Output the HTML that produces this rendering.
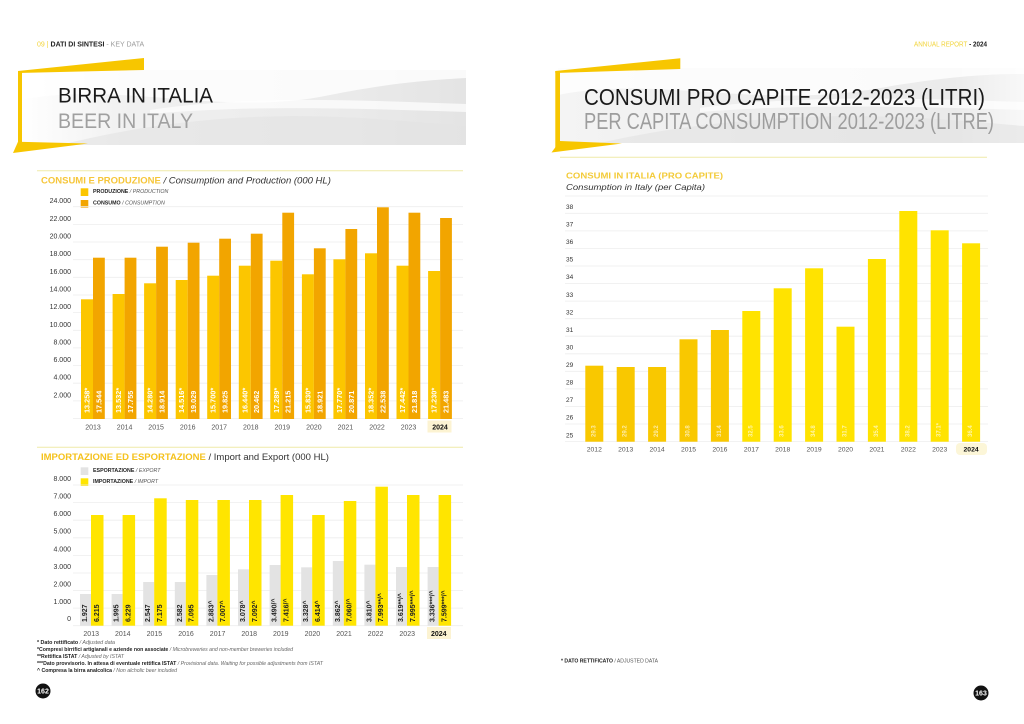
<!DOCTYPE html>
<html><head><meta charset="utf-8"><style>
html,body{margin:0;padding:0;background:#fff;}
svg{display:block;}
</style></head><body>
<svg width="1024" height="724" viewBox="0 0 1024 724" xmlns="http://www.w3.org/2000/svg" font-family="Liberation Sans, sans-serif">
<defs>
<linearGradient id="bandL" x1="0" y1="0" x2="1" y2="0">
<stop offset="0" stop-color="#ffffff"/><stop offset="0.25" stop-color="#f0f0f0"/><stop offset="0.7" stop-color="#ebebeb"/><stop offset="1" stop-color="#e4e4e4"/>
</linearGradient>
<linearGradient id="bandR" x1="0" y1="0" x2="1" y2="0">
<stop offset="0" stop-color="#f4f4f4"/><stop offset="0.4" stop-color="#eeeeee"/><stop offset="0.85" stop-color="#ebebeb"/><stop offset="1" stop-color="#f8f8f8"/>
</linearGradient>
</defs>

<!-- LEFT PAGE HEADER -->
<text x="37" y="46.5" font-size="7" fill="#222"><tspan fill="#F2D43A">09 |</tspan><tspan font-weight="bold"> DATI DI SINTESI</tspan><tspan fill="#9a9a9a"> - KEY DATA</tspan></text>

<!-- Left band -->
<rect x="20" y="70" width="446" height="75" fill="url(#bandL)"/>
<path d="M20,100 C120,80 220,118 330,95 C390,83 430,80 466,78 L466,70 L20,70 Z" fill="#ffffff" opacity="0.8"/>
<path d="M60,145 C160,120 260,112 360,118 C410,121 440,124 466,126 L466,145 Z" fill="#e2e2e2" opacity="0.6"/>
<path d="M150,110 C250,95 350,100 466,104 L466,112 C350,108 250,105 150,114 Z" fill="#ffffff" opacity="0.7"/>
<!-- Left frame -->
<polygon points="18,71 144,58 144,70 18,73" fill="#F7C600"/>
<rect x="18" y="71" width="4" height="80" fill="#F7C600"/>
<polygon points="13,153 18,141.7 88,143.5" fill="#F7C600"/>
<text x="58" y="102.5" font-size="21" fill="#1a1a1a" textLength="155" lengthAdjust="spacingAndGlyphs">BIRRA IN ITALIA</text>
<text x="58" y="128" font-size="21" fill="#a0a0a0" textLength="135" lengthAdjust="spacingAndGlyphs">BEER IN ITALY</text>

<line x1="37" y1="170.7" x2="463" y2="170.7" stroke="#EFEAA8" stroke-width="1"/>

<!-- CHART 1 -->
<text x="41" y="183.4" font-size="9.5" fill="#333"><tspan font-weight="bold" fill="#F6C63A">CONSUMI E PRODUZIONE</tspan><tspan font-style="italic"> / Consumption and Production (000 HL)</tspan></text>
<rect x="80.7" y="188.3" width="7.6" height="7.7" fill="#FCC600"/>
<rect x="80.7" y="200" width="7.6" height="7.7" fill="#F2A500"/>
<text x="93" y="193" font-size="5.3" fill="#222"><tspan font-weight="bold">PRODUZIONE</tspan><tspan font-style="italic" fill="#555"> / PRODUCTION</tspan></text>
<text x="93" y="204.7" font-size="5.3" fill="#222"><tspan font-weight="bold">CONSUMO</tspan><tspan font-style="italic" fill="#555"> / CONSUMPTION</tspan></text>

<g stroke="#ededed" stroke-width="0.8">
<line x1="73" y1="206.7" x2="463" y2="206.7"/><line x1="73" y1="224.4" x2="463" y2="224.4"/><line x1="73" y1="242" x2="463" y2="242"/><line x1="73" y1="259.7" x2="463" y2="259.7"/><line x1="73" y1="277.3" x2="463" y2="277.3"/><line x1="73" y1="295" x2="463" y2="295"/><line x1="73" y1="312.6" x2="463" y2="312.6"/><line x1="73" y1="330.3" x2="463" y2="330.3"/><line x1="73" y1="347.9" x2="463" y2="347.9"/><line x1="73" y1="365.6" x2="463" y2="365.6"/><line x1="73" y1="383.2" x2="463" y2="383.2"/><line x1="73" y1="400.9" x2="463" y2="400.9"/><line x1="73" y1="418.5" x2="463" y2="418.5"/>
</g>
<g font-size="7" fill="#333" text-anchor="end">
<text x="71" y="203.2">24.000</text><text x="71" y="220.9">22.000</text><text x="71" y="238.5">20.000</text><text x="71" y="256.2">18.000</text><text x="71" y="273.8">16.000</text><text x="71" y="291.5">14.000</text><text x="71" y="309.1">12.000</text><text x="71" y="326.8">10.000</text><text x="71" y="344.4">8.000</text><text x="71" y="362.1">6.000</text><text x="71" y="379.7">4.000</text><text x="71" y="397.4">2.000</text>
</g>
<g fill="#FCC600">
<rect x="81" y="299.3" width="12" height="119.7"/><rect x="112.6" y="294" width="12" height="125"/><rect x="144.1" y="283.3" width="12" height="135.7"/><rect x="175.7" y="280" width="12" height="139"/><rect x="207.2" y="275.7" width="12" height="143.3"/><rect x="238.8" y="265.7" width="12" height="153.3"/><rect x="270.3" y="260.7" width="12" height="158.3"/><rect x="301.9" y="274.3" width="12" height="144.7"/><rect x="333.4" y="259.3" width="12" height="159.7"/><rect x="365" y="253.3" width="12" height="165.7"/><rect x="396.5" y="265.7" width="12" height="153.3"/><rect x="428.1" y="271" width="12" height="148"/>
</g>
<g fill="#F2A500">
<rect x="93" y="257.7" width="11.8" height="161.3"/><rect x="124.6" y="257.7" width="11.8" height="161.3"/><rect x="156.1" y="246.7" width="11.8" height="172.3"/><rect x="187.7" y="242.7" width="11.8" height="176.3"/><rect x="219.2" y="238.7" width="11.8" height="180.3"/><rect x="250.8" y="233.7" width="11.8" height="185.3"/><rect x="282.3" y="212.7" width="11.8" height="206.3"/><rect x="313.9" y="248.3" width="11.8" height="170.7"/><rect x="345.4" y="229" width="11.8" height="190"/><rect x="377" y="207.3" width="11.8" height="211.7"/><rect x="408.5" y="212.7" width="11.8" height="206.3"/><rect x="440.1" y="218" width="11.8" height="201"/>
</g>
<g font-size="7.3" font-weight="bold" fill="#ffffff" dominant-baseline="central">
<text transform="translate(87,413) rotate(-90)">13.258*</text><text transform="translate(98.9,413) rotate(-90)">17.544</text>
<text transform="translate(118.6,413) rotate(-90)">13.532*</text><text transform="translate(130.5,413) rotate(-90)">17.755</text>
<text transform="translate(150.1,413) rotate(-90)">14.280*</text><text transform="translate(162,413) rotate(-90)">18.914</text>
<text transform="translate(181.7,413) rotate(-90)">14.516*</text><text transform="translate(193.6,413) rotate(-90)">19.029</text>
<text transform="translate(213.2,413) rotate(-90)">15.700*</text><text transform="translate(225.1,413) rotate(-90)">19.825</text>
<text transform="translate(244.8,413) rotate(-90)">16.440*</text><text transform="translate(256.7,413) rotate(-90)">20.462</text>
<text transform="translate(276.3,413) rotate(-90)">17.289*</text><text transform="translate(288.2,413) rotate(-90)">21.215</text>
<text transform="translate(307.9,413) rotate(-90)">15.830*</text><text transform="translate(319.8,413) rotate(-90)">18.921</text>
<text transform="translate(339.4,413) rotate(-90)">17.770*</text><text transform="translate(351.3,413) rotate(-90)">20.871</text>
<text transform="translate(371,413) rotate(-90)">18.352*</text><text transform="translate(382.9,413) rotate(-90)">22.538</text>
<text transform="translate(402.5,413) rotate(-90)">17.442*</text><text transform="translate(414.4,413) rotate(-90)">21.818</text>
<text transform="translate(434.1,413) rotate(-90)">17.230*</text><text transform="translate(446,413) rotate(-90)">21.483</text>
</g>
<rect x="427.5" y="420.5" width="24" height="12" fill="#FCF3D2"/>
<g font-size="7" fill="#555" text-anchor="middle">
<text x="93" y="429.5">2013</text><text x="124.6" y="429.5">2014</text><text x="156.1" y="429.5">2015</text><text x="187.7" y="429.5">2016</text><text x="219.2" y="429.5">2017</text><text x="250.8" y="429.5">2018</text><text x="282.3" y="429.5">2019</text><text x="313.9" y="429.5">2020</text><text x="345.4" y="429.5">2021</text><text x="377" y="429.5">2022</text><text x="408.5" y="429.5">2023</text><text x="440" y="429.5" font-weight="bold" fill="#111">2024</text>
</g>

<line x1="37" y1="447.3" x2="463" y2="447.3" stroke="#EFEAA8" stroke-width="1"/>

<!-- CHART 2 -->
<text x="41" y="460" font-size="9.5" fill="#333"><tspan font-weight="bold" fill="#F5C21C">IMPORTAZIONE ED ESPORTAZIONE</tspan><tspan> / Import and Export (000 HL)</tspan></text>
<rect x="80.7" y="467.3" width="7.6" height="7.7" fill="#E3E3E3"/>
<rect x="80.7" y="478.3" width="7.6" height="7.7" fill="#FFE500"/>
<text x="93" y="472" font-size="5.3" fill="#222"><tspan font-weight="bold">ESPORTAZIONE</tspan><tspan font-style="italic" fill="#555"> / EXPORT</tspan></text>
<text x="93" y="483" font-size="5.3" fill="#222"><tspan font-weight="bold">IMPORTAZIONE</tspan><tspan font-style="italic" fill="#555"> / IMPORT</tspan></text>
<g stroke="#ededed" stroke-width="0.8">
<line x1="73" y1="485" x2="463" y2="485"/><line x1="73" y1="502.6" x2="463" y2="502.6"/><line x1="73" y1="520.2" x2="463" y2="520.2"/><line x1="73" y1="537.8" x2="463" y2="537.8"/><line x1="73" y1="555.4" x2="463" y2="555.4"/><line x1="73" y1="573" x2="463" y2="573"/><line x1="73" y1="590.5" x2="463" y2="590.5"/><line x1="73" y1="608.1" x2="463" y2="608.1"/><line x1="73" y1="625.7" x2="463" y2="625.7"/>
</g>
<g font-size="7" fill="#333" text-anchor="end">
<text x="71" y="481">8.000</text><text x="71" y="498.5">7.000</text><text x="71" y="516.1">6.000</text><text x="71" y="533.7">5.000</text><text x="71" y="551.3">4.000</text><text x="71" y="568.9">3.000</text><text x="71" y="586.4">2.000</text><text x="71" y="604">1.000</text><text x="71" y="621">0</text>
</g>
<g fill="#E3E3E3">
<rect x="80" y="594" width="11" height="31.7"/><rect x="111.6" y="594" width="11" height="31.7"/><rect x="143.2" y="582" width="11" height="43.7"/><rect x="174.8" y="582" width="11" height="43.7"/><rect x="206.4" y="575" width="11" height="50.7"/><rect x="238" y="569.3" width="11" height="56.4"/><rect x="269.6" y="565" width="11" height="60.7"/><rect x="301.2" y="567.3" width="11" height="58.4"/><rect x="332.8" y="561" width="11" height="64.7"/><rect x="364.4" y="564.7" width="11" height="61"/><rect x="396" y="567" width="11" height="58.7"/><rect x="427.6" y="567" width="11" height="58.7"/>
</g>
<g fill="#FFE500">
<rect x="91" y="515" width="12.5" height="110.7"/><rect x="122.6" y="515" width="12.5" height="110.7"/><rect x="154.2" y="498.3" width="12.5" height="127.4"/><rect x="185.8" y="500" width="12.5" height="125.7"/><rect x="217.4" y="500" width="12.5" height="125.7"/><rect x="249" y="500" width="12.5" height="125.7"/><rect x="280.6" y="495" width="12.5" height="130.7"/><rect x="312.2" y="515" width="12.5" height="110.7"/><rect x="343.8" y="501" width="12.5" height="124.7"/><rect x="375.4" y="486.7" width="12.5" height="139"/><rect x="407" y="495" width="12.5" height="130.7"/><rect x="438.6" y="495" width="12.5" height="130.7"/>
</g>
<g font-size="7" font-weight="bold" fill="#222" dominant-baseline="central">
<text transform="translate(85.5,622) rotate(-90)">1.927</text><text transform="translate(97.3,622) rotate(-90)">6.215</text>
<text transform="translate(117.1,622) rotate(-90)">1.995</text><text transform="translate(128.9,622) rotate(-90)">6.229</text>
<text transform="translate(148.7,622) rotate(-90)">2.547</text><text transform="translate(160.5,622) rotate(-90)">7.175</text>
<text transform="translate(180.3,622) rotate(-90)">2.582</text><text transform="translate(192.1,622) rotate(-90)">7.095</text>
<text transform="translate(211.9,622) rotate(-90)">2.883^</text><text transform="translate(223.7,622) rotate(-90)">7.007^</text>
<text transform="translate(243.5,622) rotate(-90)">3.078^</text><text transform="translate(255.3,622) rotate(-90)">7.092^</text>
<text transform="translate(275.1,622) rotate(-90)">3.490/^</text><text transform="translate(286.9,622) rotate(-90)">7.416/^</text>
<text transform="translate(306.7,622) rotate(-90)">3.328^</text><text transform="translate(318.5,622) rotate(-90)">6.414^</text>
<text transform="translate(338.3,622) rotate(-90)">3.862^</text><text transform="translate(350.1,622) rotate(-90)">7.060/^</text>
<text transform="translate(369.9,622) rotate(-90)">3.810^</text><text transform="translate(381.7,622) rotate(-90)">7.993**/^</text>
<text transform="translate(401.5,622) rotate(-90)">3.619**/^</text><text transform="translate(413.3,622) rotate(-90)">7.995***/^</text>
<text transform="translate(433.1,622) rotate(-90)">3.336***/^</text><text transform="translate(444.9,622) rotate(-90)">7.599***/^</text>
</g>
<rect x="427" y="627" width="24" height="12" fill="#FCF3D2"/>
<g font-size="7" fill="#555" text-anchor="middle">
<text x="91.2" y="636">2013</text><text x="122.8" y="636">2014</text><text x="154.4" y="636">2015</text><text x="186" y="636">2016</text><text x="217.6" y="636">2017</text><text x="249.2" y="636">2018</text><text x="280.8" y="636">2019</text><text x="312.4" y="636">2020</text><text x="344" y="636">2021</text><text x="375.6" y="636">2022</text><text x="407.2" y="636">2023</text><text x="438.8" y="636" font-weight="bold" fill="#111">2024</text>
</g>

<!-- Footnotes left -->
<g font-size="5" fill="#222">
<text x="37" y="644" textLength="78" lengthAdjust="spacingAndGlyphs"><tspan font-weight="bold">* Dato rettificato</tspan><tspan font-style="italic" fill="#666"> / Adjusted data</tspan></text>
<text x="37" y="651" textLength="256" lengthAdjust="spacingAndGlyphs"><tspan font-weight="bold">*Compresi birrifici artigianali e aziende non associate</tspan><tspan font-style="italic" fill="#666"> / Microbreweries and non-member breweries included</tspan></text>
<text x="37" y="658" textLength="87" lengthAdjust="spacingAndGlyphs"><tspan font-weight="bold">**Rettifica ISTAT</tspan><tspan font-style="italic" fill="#666"> / Adjusted by ISTAT</tspan></text>
<text x="37" y="665" textLength="286" lengthAdjust="spacingAndGlyphs"><tspan font-weight="bold">***Dato provvisorio. In attesa di eventuale rettifica ISTAT</tspan><tspan font-style="italic" fill="#666"> / Provisional data. Waiting for possible adjustments from ISTAT</tspan></text>
<text x="37" y="672" textLength="140" lengthAdjust="spacingAndGlyphs"><tspan font-weight="bold">^ Compresa la birra analcolica</tspan><tspan font-style="italic" fill="#666"> / Non alcholic beer included</tspan></text>
</g>
<circle cx="43" cy="691" r="7.5" fill="#111"/>
<text x="43" y="693.5" font-size="7" font-weight="bold" fill="#fff" text-anchor="middle">162</text>

<!-- RIGHT PAGE -->
<text x="987" y="46.5" font-size="7" text-anchor="end" textLength="73" lengthAdjust="spacingAndGlyphs"><tspan fill="#F2D43A">ANNUAL REPORT</tspan><tspan fill="#222" font-weight="bold"> - 2024</tspan></text>

<rect x="558" y="68" width="466" height="75" fill="url(#bandR)"/>
<path d="M558,95 C660,75 760,110 880,88 C950,76 990,74 1024,74 L1024,68 L558,68 Z" fill="#ffffff" opacity="0.8"/>
<path d="M600,143 C700,120 820,112 920,118 C970,121 1000,124 1024,126 L1024,143 Z" fill="#e3e3e3" opacity="0.6"/>
<path d="M700,108 C800,95 900,98 1024,102 L1024,110 C900,106 800,104 700,112 Z" fill="#ffffff" opacity="0.7"/>
<polygon points="555.3,71 680.3,58.3 680.3,69 555.3,73" fill="#F7C600"/>
<rect x="555.3" y="71" width="4.7" height="79" fill="#F7C600"/>
<polygon points="551.5,152.5 560,141 622,143.5" fill="#F7C600"/>
<text x="584" y="105" font-size="23" fill="#1a1a1a" textLength="401" lengthAdjust="spacingAndGlyphs">CONSUMI PRO CAPITE 2012-2023 (LITRI)</text>
<text x="584" y="129" font-size="23" fill="#9d9d9d" textLength="410" lengthAdjust="spacingAndGlyphs">PER CAPITA CONSUMPTION 2012-2023 (LITRE)</text>

<line x1="560" y1="157.3" x2="987" y2="157.3" stroke="#EFEAA8" stroke-width="1"/>

<text x="566" y="178.3" font-size="8.3" font-weight="bold" fill="#F3CB3A" textLength="157" lengthAdjust="spacingAndGlyphs">CONSUMI IN ITALIA (PRO CAPITE)</text>
<text x="566" y="190" font-size="8.5" font-style="italic" fill="#333" textLength="139" lengthAdjust="spacingAndGlyphs">Consumption in Italy (per Capita)</text>
<line x1="565" y1="196" x2="988" y2="196" stroke="#eeeeee" stroke-width="0.8"/>

<g stroke="#ededed" stroke-width="0.8">
<line x1="565" y1="213.3" x2="988" y2="213.3"/><line x1="565" y1="230.9" x2="988" y2="230.9"/><line x1="565" y1="248.4" x2="988" y2="248.4"/><line x1="565" y1="266" x2="988" y2="266"/><line x1="565" y1="283.5" x2="988" y2="283.5"/><line x1="565" y1="301.1" x2="988" y2="301.1"/><line x1="565" y1="318.7" x2="988" y2="318.7"/><line x1="565" y1="336.2" x2="988" y2="336.2"/><line x1="565" y1="353.8" x2="988" y2="353.8"/><line x1="565" y1="371.3" x2="988" y2="371.3"/><line x1="565" y1="388.9" x2="988" y2="388.9"/><line x1="565" y1="406.5" x2="988" y2="406.5"/><line x1="565" y1="424" x2="988" y2="424"/><line x1="565" y1="441.6" x2="988" y2="441.6"/>
</g>
<g font-size="6.5" fill="#333">
<text x="566" y="209">38</text><text x="566" y="226.6">37</text><text x="566" y="244.1">36</text><text x="566" y="261.7">35</text><text x="566" y="279.2">34</text><text x="566" y="296.8">33</text><text x="566" y="314.4">32</text><text x="566" y="331.9">31</text><text x="566" y="349.5">30</text><text x="566" y="367">29</text><text x="566" y="384.6">28</text><text x="566" y="402.2">27</text><text x="566" y="419.7">26</text><text x="566" y="437.3">25</text>
</g>
<g fill="#F9C800">
<rect x="585.3" y="365.7" width="18" height="76"/><rect x="616.7" y="367" width="18" height="74.7"/><rect x="648.1" y="367" width="18" height="74.7"/><rect x="679.5" y="339.3" width="18" height="102.4"/><rect x="710.9" y="330" width="18" height="111.7"/>
</g>
<g fill="#FFE300">
<rect x="742.3" y="311" width="18" height="130.7"/><rect x="773.7" y="288.3" width="18" height="153.4"/><rect x="805.1" y="268.3" width="18" height="173.4"/><rect x="836.5" y="326.7" width="18" height="115"/><rect x="867.9" y="259" width="18" height="182.7"/><rect x="899.3" y="211" width="18" height="230.7"/><rect x="930.7" y="230.3" width="18" height="211.4"/><rect x="962.1" y="243.3" width="18" height="198.4"/>
</g>
<g font-size="6" font-weight="bold" fill="#ffffff" fill-opacity="0.65" dominant-baseline="central">
<text transform="translate(594.3,437) rotate(-90)">29.3</text><text transform="translate(625.7,437) rotate(-90)">29.2</text><text transform="translate(657.1,437) rotate(-90)">29.2</text><text transform="translate(688.5,437) rotate(-90)">30.8</text><text transform="translate(719.9,437) rotate(-90)">31.4</text><text transform="translate(751.3,437) rotate(-90)">32.5</text><text transform="translate(782.7,437) rotate(-90)">33.6</text><text transform="translate(814.1,437) rotate(-90)">34.8</text><text transform="translate(845.5,437) rotate(-90)">31.7</text><text transform="translate(876.9,437) rotate(-90)">35.4</text><text transform="translate(908.3,437) rotate(-90)">38.2</text><text transform="translate(939.7,437) rotate(-90)">37.1*</text><text transform="translate(971.1,437) rotate(-90)">36.4</text>
</g>
<rect x="956" y="443" width="31" height="12" rx="4" fill="#FCF6D8"/>
<g font-size="6.8" fill="#555" text-anchor="middle">
<text x="594.3" y="451.5">2012</text><text x="625.7" y="451.5">2013</text><text x="657.1" y="451.5">2014</text><text x="688.5" y="451.5">2015</text><text x="719.9" y="451.5">2016</text><text x="751.3" y="451.5">2017</text><text x="782.7" y="451.5">2018</text><text x="814.1" y="451.5">2019</text><text x="845.5" y="451.5">2020</text><text x="876.9" y="451.5">2021</text><text x="908.3" y="451.5">2022</text><text x="939.7" y="451.5">2023</text><text x="971.1" y="451.5" font-weight="bold" fill="#111">2024</text>
</g>

<text x="561" y="662.5" font-size="5.2" fill="#222" textLength="97" lengthAdjust="spacingAndGlyphs"><tspan font-weight="bold">* DATO RETTIFICATO</tspan><tspan fill="#555"> / ADJUSTED DATA</tspan></text>
<circle cx="981" cy="693" r="7.5" fill="#111"/>
<text x="981" y="695.5" font-size="7" font-weight="bold" fill="#fff" text-anchor="middle">163</text>
</svg>
</body></html>
